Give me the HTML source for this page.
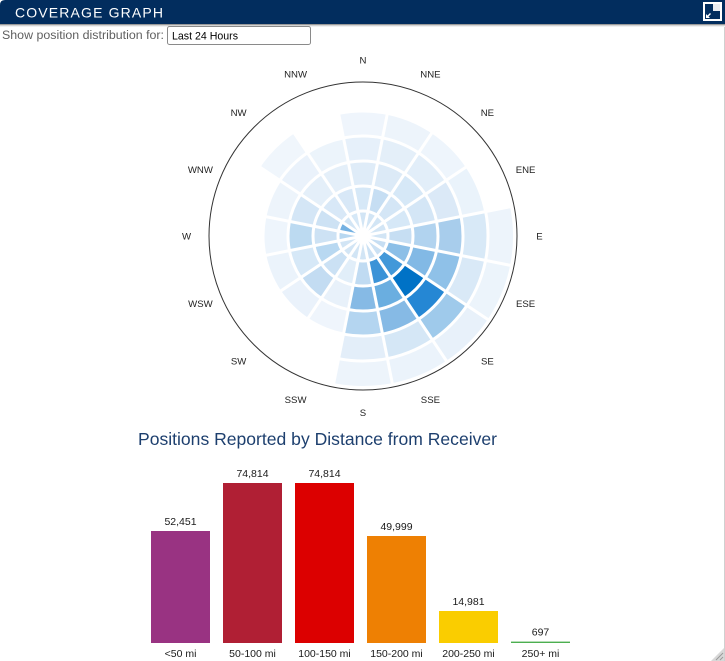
<!DOCTYPE html>
<html>
<head>
<meta charset="utf-8">
<style>
html,body{margin:0;padding:0;background:#fff;}
body{width:725px;height:661px;overflow:hidden;position:relative;font-family:"Liberation Sans",Arial,sans-serif;}
svg{position:absolute;left:0;top:0;}
.cells circle{fill:none;stroke-width:25;stroke-dasharray:22.5 337.5;}
.lbl{font-family:"Liberation Sans",Arial,sans-serif;font-size:9.6px;fill:#222;text-anchor:middle;}
.val{font-family:"Liberation Sans",Arial,sans-serif;font-size:10.5px;fill:#1a1a1a;text-anchor:middle;}
</style>
</head>
<body>
<svg width="725" height="661" viewBox="0 0 725 661" xmlns="http://www.w3.org/2000/svg">
  <!-- header -->
  <path d="M0,5 Q0,0 5,0 L725,0 L725,24 L0,24 Z" fill="#022d5e"/>
  <rect x="0" y="24" width="725" height="1" fill="#9a9a9a"/>
  <rect x="0" y="25" width="725" height="1" fill="#d4d4d4"/>
  <rect x="0" y="26" width="725" height="1" fill="#f0f0f0"/>
  <text x="15" y="17.5" font-family="Liberation Sans, Arial, sans-serif" font-size="14" fill="#fff" textLength="148" lengthAdjust="spacing">COVERAGE GRAPH</text>
  <!-- icon -->
  <rect x="703" y="2" width="19" height="19" fill="#fff"/>
  <rect x="705" y="4" width="15" height="15" fill="#022d5e"/>
  <rect x="713" y="4" width="7" height="7" fill="#e9ecf1"/>
  <polygon points="706,18 706,14 707.5,15.5 710,13 711,14 708.5,16.5 710,18" fill="#fff"/>
  <!-- right border -->
  <rect x="724" y="27" width="1" height="634" fill="#d0d0d0"/>

  <!-- filter row -->
  <text x="2" y="39" font-family="Liberation Sans, Arial, sans-serif" font-size="12.3" fill="#5f5f5f" textLength="162" lengthAdjust="spacingAndGlyphs">Show position distribution for:</text>
  <rect x="167.5" y="26.5" width="143" height="18" rx="2" ry="2" fill="#fff" stroke="#8a8a8a" stroke-width="1"/>
  <text x="172" y="39.5" font-family="Liberation Sans, Arial, sans-serif" font-size="10.6" fill="#000" textLength="66" lengthAdjust="spacingAndGlyphs">Last 24 Hours</text>

  <!-- polar chart -->
  <circle cx="363" cy="236" r="154" fill="none" stroke="#333" stroke-width="1"/>
  <g transform="translate(363,236)" class="cells">
    <!-- N -->
    <circle r="12.5" pathLength="360" stroke="#d2e5f5" transform="rotate(-101.25)"/>
    <circle r="37.5" pathLength="360" stroke="#d6e8f7" transform="rotate(-101.25)"/>
    <circle r="62.5" pathLength="360" stroke="#dfecf8" transform="rotate(-101.25)"/>
    <circle r="87.5" pathLength="360" stroke="#e6f0fa" transform="rotate(-101.25)"/>
    <circle r="112.5" pathLength="360" stroke="#eff5fc" transform="rotate(-101.25)"/>
    <!-- NNE -->
    <circle r="12.5" pathLength="360" stroke="#d2e5f5" transform="rotate(-78.75)"/>
    <circle r="37.5" pathLength="360" stroke="#c6def3" transform="rotate(-78.75)"/>
    <circle r="62.5" pathLength="360" stroke="#dceaf7" transform="rotate(-78.75)"/>
    <circle r="87.5" pathLength="360" stroke="#e4eff9" transform="rotate(-78.75)"/>
    <circle r="112.5" pathLength="360" stroke="#edf4fb" transform="rotate(-78.75)"/>
    <!-- NE -->
    <circle r="12.5" pathLength="360" stroke="#d2e5f5" transform="rotate(-56.25)"/>
    <circle r="37.5" pathLength="360" stroke="#d4e6f6" transform="rotate(-56.25)"/>
    <circle r="62.5" pathLength="360" stroke="#d6e8f7" transform="rotate(-56.25)"/>
    <circle r="87.5" pathLength="360" stroke="#e2eef9" transform="rotate(-56.25)"/>
    <circle r="112.5" pathLength="360" stroke="#eef5fc" transform="rotate(-56.25)"/>
    <!-- ENE -->
    <circle r="12.5" pathLength="360" stroke="#d2e5f5" transform="rotate(-33.75)"/>
    <circle r="37.5" pathLength="360" stroke="#d6e8f7" transform="rotate(-33.75)"/>
    <circle r="62.5" pathLength="360" stroke="#d4e6f6" transform="rotate(-33.75)"/>
    <circle r="87.5" pathLength="360" stroke="#dbe9f7" transform="rotate(-33.75)"/>
    <circle r="112.5" pathLength="360" stroke="#eaf3fb" transform="rotate(-33.75)"/>
    <!-- E -->
    <circle r="12.5" pathLength="360" stroke="#d2e5f5" transform="rotate(-11.25)"/>
    <circle r="37.5" pathLength="360" stroke="#c6def3" transform="rotate(-11.25)"/>
    <circle r="62.5" pathLength="360" stroke="#b1d3ef" transform="rotate(-11.25)"/>
    <circle r="87.5" pathLength="360" stroke="#a8cdec" transform="rotate(-11.25)"/>
    <circle r="112.5" pathLength="360" stroke="#d8e9f7" transform="rotate(-11.25)"/>
    <circle r="137.5" pathLength="360" stroke="#edf4fb" transform="rotate(-11.25)"/>
    <!-- ESE -->
    <circle r="12.5" pathLength="360" stroke="#c6def3" transform="rotate(11.25)"/>
    <circle r="37.5" pathLength="360" stroke="#8cbfe7" transform="rotate(11.25)"/>
    <circle r="62.5" pathLength="360" stroke="#82b9e5" transform="rotate(11.25)"/>
    <circle r="87.5" pathLength="360" stroke="#8fc1e8" transform="rotate(11.25)"/>
    <circle r="112.5" pathLength="360" stroke="#d9e9f7" transform="rotate(11.25)"/>
    <circle r="137.5" pathLength="360" stroke="#ecf4fb" transform="rotate(11.25)"/>
    <!-- SE -->
    <circle r="12.5" pathLength="360" stroke="#cbe1f4" transform="rotate(33.75)"/>
    <circle r="37.5" pathLength="360" stroke="#4298d9" transform="rotate(33.75)"/>
    <circle r="62.5" pathLength="360" stroke="#0072c6" transform="rotate(33.75)"/>
    <circle r="87.5" pathLength="360" stroke="#2587d4" transform="rotate(33.75)"/>
    <circle r="112.5" pathLength="360" stroke="#9fcaeb" transform="rotate(33.75)"/>
    <circle r="137.5" pathLength="360" stroke="#e8f1fa" transform="rotate(33.75)"/>
    <!-- SSE -->
    <circle r="12.5" pathLength="360" stroke="#cbe1f4" transform="rotate(56.25)"/>
    <circle r="37.5" pathLength="360" stroke="#3b93d7" transform="rotate(56.25)"/>
    <circle r="62.5" pathLength="360" stroke="#6aaee0" transform="rotate(56.25)"/>
    <circle r="87.5" pathLength="360" stroke="#86bae5" transform="rotate(56.25)"/>
    <circle r="112.5" pathLength="360" stroke="#d5e7f6" transform="rotate(56.25)"/>
    <circle r="137.5" pathLength="360" stroke="#ebf3fb" transform="rotate(56.25)"/>
    <!-- S -->
    <circle r="12.5" pathLength="360" stroke="#d2e5f5" transform="rotate(78.75)"/>
    <circle r="37.5" pathLength="360" stroke="#c0dbf2" transform="rotate(78.75)"/>
    <circle r="62.5" pathLength="360" stroke="#86bae5" transform="rotate(78.75)"/>
    <circle r="87.5" pathLength="360" stroke="#b4d5f0" transform="rotate(78.75)"/>
    <circle r="112.5" pathLength="360" stroke="#e3eef9" transform="rotate(78.75)"/>
    <circle r="137.5" pathLength="360" stroke="#edf4fb" transform="rotate(78.75)"/>
    <!-- SSW -->
    <circle r="12.5" pathLength="360" stroke="#d2e5f5" transform="rotate(101.25)"/>
    <circle r="37.5" pathLength="360" stroke="#e1eef9" transform="rotate(101.25)"/>
    <circle r="62.5" pathLength="360" stroke="#e8f1fa" transform="rotate(101.25)"/>
    <circle r="87.5" pathLength="360" stroke="#eff5fc" transform="rotate(101.25)"/>
    <!-- SW -->
    <circle r="12.5" pathLength="360" stroke="#d2e5f5" transform="rotate(123.75)"/>
    <circle r="37.5" pathLength="360" stroke="#cbe1f4" transform="rotate(123.75)"/>
    <circle r="62.5" pathLength="360" stroke="#c3dcf2" transform="rotate(123.75)"/>
    <circle r="87.5" pathLength="360" stroke="#eaf2fb" transform="rotate(123.75)"/>
    <!-- WSW -->
    <circle r="12.5" pathLength="360" stroke="#d2e5f5" transform="rotate(146.25)"/>
    <circle r="37.5" pathLength="360" stroke="#b8d8f1" transform="rotate(146.25)"/>
    <circle r="62.5" pathLength="360" stroke="#d6e8f7" transform="rotate(146.25)"/>
    <circle r="87.5" pathLength="360" stroke="#ebf3fb" transform="rotate(146.25)"/>
    <!-- W -->
    <circle r="12.5" pathLength="360" stroke="#b8d8f1" transform="rotate(168.75)"/>
    <circle r="37.5" pathLength="360" stroke="#cde2f4" transform="rotate(168.75)"/>
    <circle r="62.5" pathLength="360" stroke="#bcdaf1" transform="rotate(168.75)"/>
    <circle r="87.5" pathLength="360" stroke="#eef5fc" transform="rotate(168.75)"/>
    <!-- WNW -->
    <circle r="12.5" pathLength="360" stroke="#74b1e2" transform="rotate(191.25)"/>
    <circle r="37.5" pathLength="360" stroke="#cde2f4" transform="rotate(191.25)"/>
    <circle r="62.5" pathLength="360" stroke="#d4e6f6" transform="rotate(191.25)"/>
    <circle r="87.5" pathLength="360" stroke="#edf4fb" transform="rotate(191.25)"/>
    <!-- NW -->
    <circle r="12.5" pathLength="360" stroke="#d2e5f5" transform="rotate(213.75)"/>
    <circle r="37.5" pathLength="360" stroke="#d8e8f7" transform="rotate(213.75)"/>
    <circle r="62.5" pathLength="360" stroke="#e4eff9" transform="rotate(213.75)"/>
    <circle r="87.5" pathLength="360" stroke="#eaf2fb" transform="rotate(213.75)"/>
    <circle r="112.5" pathLength="360" stroke="#f0f6fc" transform="rotate(213.75)"/>
    <!-- NNW -->
    <circle r="12.5" pathLength="360" stroke="#d6e8f7" transform="rotate(236.25)"/>
    <circle r="37.5" pathLength="360" stroke="#d8e8f7" transform="rotate(236.25)"/>
    <circle r="62.5" pathLength="360" stroke="#e4eff9" transform="rotate(236.25)"/>
    <circle r="87.5" pathLength="360" stroke="#ecf4fb" transform="rotate(236.25)"/>
  </g>
  <!-- white gaps -->
  <g transform="translate(363,236)" fill="none" stroke="#fff" stroke-width="3">
    <circle r="25"/><circle r="50"/><circle r="75"/><circle r="100"/><circle r="125"/>
    <line x1="0" y1="0" x2="0" y2="-152" transform="rotate(11.25)"/>
    <line x1="0" y1="0" x2="0" y2="-152" transform="rotate(33.75)"/>
    <line x1="0" y1="0" x2="0" y2="-152" transform="rotate(56.25)"/>
    <line x1="0" y1="0" x2="0" y2="-152" transform="rotate(78.75)"/>
    <line x1="0" y1="0" x2="0" y2="-152" transform="rotate(101.25)"/>
    <line x1="0" y1="0" x2="0" y2="-152" transform="rotate(123.75)"/>
    <line x1="0" y1="0" x2="0" y2="-152" transform="rotate(146.25)"/>
    <line x1="0" y1="0" x2="0" y2="-152" transform="rotate(168.75)"/>
    <line x1="0" y1="0" x2="0" y2="-152" transform="rotate(191.25)"/>
    <line x1="0" y1="0" x2="0" y2="-152" transform="rotate(213.75)"/>
    <line x1="0" y1="0" x2="0" y2="-152" transform="rotate(236.25)"/>
    <line x1="0" y1="0" x2="0" y2="-152" transform="rotate(258.75)"/>
    <line x1="0" y1="0" x2="0" y2="-152" transform="rotate(281.25)"/>
    <line x1="0" y1="0" x2="0" y2="-152" transform="rotate(303.75)"/>
    <line x1="0" y1="0" x2="0" y2="-152" transform="rotate(326.25)"/>
    <line x1="0" y1="0" x2="0" y2="-152" transform="rotate(348.75)"/>
  </g>
  <circle cx="363" cy="236" r="4" fill="#fff"/>

  <!-- compass labels -->
  <text class="lbl" x="363" y="63.5">N</text>
  <text class="lbl" x="430.4" y="77.5">NNE</text>
  <text class="lbl" x="487.4" y="116">NE</text>
  <text class="lbl" x="525.6" y="173">ENE</text>
  <text class="lbl" x="539.5" y="239.5">E</text>
  <text class="lbl" x="525.6" y="307">ESE</text>
  <text class="lbl" x="487.4" y="364.5">SE</text>
  <text class="lbl" x="430.4" y="403">SSE</text>
  <text class="lbl" x="363" y="416">S</text>
  <text class="lbl" x="295.6" y="403">SSW</text>
  <text class="lbl" x="238.6" y="364.5">SW</text>
  <text class="lbl" x="200.4" y="307">WSW</text>
  <text class="lbl" x="186.5" y="239.5">W</text>
  <text class="lbl" x="200.4" y="173">WNW</text>
  <text class="lbl" x="238.6" y="116">NW</text>
  <text class="lbl" x="295.6" y="77.5">NNW</text>

  <!-- bar chart -->
  <text x="138" y="445" font-family="Liberation Sans, Arial, sans-serif" font-size="17.5" fill="#1d3f6e" textLength="359" lengthAdjust="spacingAndGlyphs">Positions Reported by Distance from Receiver</text>

  <rect x="151" y="531" width="59" height="112" fill="#993382"/>
  <rect x="223" y="483" width="59" height="160" fill="#b01f34"/>
  <rect x="295" y="483" width="59" height="160" fill="#dc0000"/>
  <rect x="367" y="536" width="59" height="107" fill="#ee8003"/>
  <rect x="439" y="611" width="59" height="32" fill="#facd00"/>
  <rect x="511" y="641.6" width="59" height="1.4" fill="#4caf50"/>

  <text class="val" x="180.5" y="525">52,451</text>
  <text class="val" x="252.5" y="477">74,814</text>
  <text class="val" x="324.5" y="477">74,814</text>
  <text class="val" x="396.5" y="530">49,999</text>
  <text class="val" x="468.5" y="605">14,981</text>
  <text class="val" x="540.5" y="635.5">697</text>

  <text class="val" x="180.5" y="657">&lt;50 mi</text>
  <text class="val" x="252.5" y="657">50-100 mi</text>
  <text class="val" x="324.5" y="657">100-150 mi</text>
  <text class="val" x="396.5" y="657">150-200 mi</text>
  <text class="val" x="468.5" y="657">200-250 mi</text>
  <text class="val" x="540.5" y="657">250+ mi</text>

  <!-- resize grip -->
  <polygon points="724,648 724,661 711,661" fill="#d8d8d8"/>
  <line x1="716" y1="660" x2="723" y2="653" stroke="#9a9a9a" stroke-width="1"/>
  <line x1="720" y1="660" x2="723" y2="657" stroke="#9a9a9a" stroke-width="1"/>
</svg>
</body>
</html>
